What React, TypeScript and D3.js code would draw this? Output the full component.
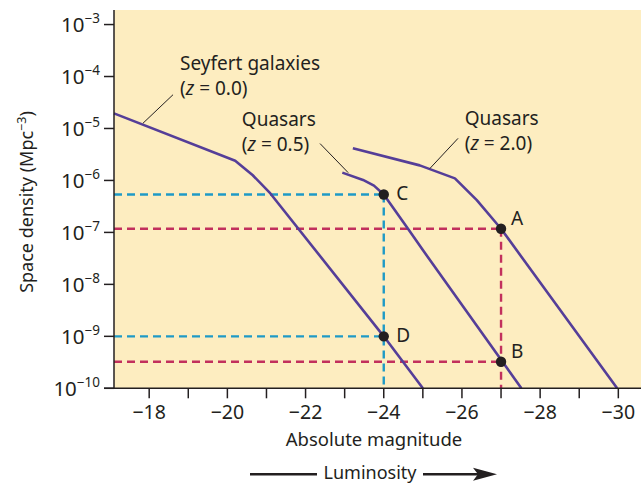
import * as d3 from 'd3';
import * as React from 'react';

// curves: absolute magnitude vs log10(space density)
const seyfertMag = [-17.1, -20.2, -20.65, -21.1, -24.0, -25.0];
const seyfertLog = [-4.71, -5.62, -5.9, -6.25, -9.0, -10.0];

const quasar05Mag = [-22.94, -23.47, -23.75, -24.0, -24.62, -25.0, -27.52];
const quasar05Log = [-5.85, -5.99, -6.1, -6.27, -6.93, -7.34, -10.0];

const quasar20Mag = [-23.21, -24.92, -25.82, -26.38, -27.0, -29.97];
const quasar20Log = [-5.38, -5.71, -5.96, -6.38, -6.93, -10.0];

// marked points
const pointNames = ['A', 'B', 'C', 'D'];
const pointMag = [-27, -27, -24, -24];
const pointLog = [-6.93, -9.49, -6.27, -9.0];
const pointColor = ['#c2305d', '#c2305d', '#1f9ac6', '#1f9ac6'];

const xTickValues = [-18, -19, -20, -21, -22, -23, -24, -25, -26, -27, -28, -29, -30];
const xTickLabels = [-18, -20, -22, -24, -26, -28, -30];
const yTickExp = [-3, -4, -5, -6, -7, -8, -9, -10];

// curve labels, positions in data units
const labelNames = ['Seyfert galaxies', 'Quasars', 'Quasars'];
const labelZ = ['0.0', '0.5', '2.0'];
const labelMag = [-18.79, -20.37, -26.07];
const labelLog = [-3.877, -4.956, -4.94];
const leaderFrom = [[-17.84, -4.9], [-23.09, -5.85], [-25.18, -5.77]];
const leaderTo = [[-18.61, -4.35], [-22.37, -5.29], [-25.9, -5.19]];

const W = 641;
const H = 483;
const left = 114;
const right = 641;
const top = 10;
const bottom = 388.3;

const font = "'Noto Sans', sans-serif";
const ink = '#231f20';
const curveColor = '#553e98';

const minus = (n: number) => String(n).replace('-', '\u2212');

export default function App() {
    const x = d3.scaleLinear().domain([-17.1, -30.58]).range([left, right]);
    const y = d3.scaleLog().domain([1e-10, Math.pow(10, -2.72)]).range([bottom, top]);
    const py = (l: number) => y(Math.pow(10, l));

    const line = d3.line<[number, number]>()
        .x((d) => x(d[0]))
        .y((d) => py(d[1]));

    const curves = [
        seyfertMag.map((m, i) => [m, seyfertLog[i]] as [number, number]),
        quasar05Mag.map((m, i) => [m, quasar05Log[i]] as [number, number]),
        quasar20Mag.map((m, i) => [m, quasar20Log[i]] as [number, number]),
    ];

    const arrowY = 474.3;

    return (
        <svg width={W} height={H} style={{position: 'absolute', left: 0, top: 0}} fontFamily={font}>
            <rect x={left} y={top} width={right - left} height={bottom - top} fill='#fdedc0' />

            {/* dashed guide lines */}
            {pointNames.map((n, i) => (
                <g key={'g' + n}>
                    <line x1={left} x2={x(pointMag[i])} y1={py(pointLog[i])} y2={py(pointLog[i])}
                        stroke={pointColor[i]} strokeWidth={2.4} strokeDasharray='8,5' />
                    {(n === 'A' || n === 'C') && (
                        <line x1={x(pointMag[i])} x2={x(pointMag[i])} y1={py(pointLog[i])} y2={bottom}
                            stroke={pointColor[i]} strokeWidth={2.4} strokeDasharray='8,5' />
                    )}
                </g>
            ))}

            {curves.map((c, i) => (
                <path key={'c' + i} d={line(c) || ''} fill='none' stroke={curveColor} strokeWidth={2.6} strokeLinejoin='round' />
            ))}

            {/* leaders and labels */}
            {labelNames.map((n, i) => (
                <g key={'l' + i} fill={ink} fontSize={19}>
                    <line x1={x(leaderFrom[i][0])} y1={py(leaderFrom[i][1])} x2={x(leaderTo[i][0])} y2={py(leaderTo[i][1])}
                        stroke={ink} strokeWidth={1} />
                    <text x={x(labelMag[i])} y={py(labelLog[i])}>{n}</text>
                    <text x={x(labelMag[i])} y={py(labelLog[i]) + 25}>
                        (<tspan fontStyle='italic'>z</tspan> = {labelZ[i]})
                    </text>
                </g>
            ))}

            {pointNames.map((n, i) => {
                const cx = x(pointMag[i]);
                const cy = py(pointLog[i]);
                const above = n === 'A' || n === 'B';
                return (
                    <g key={'p' + n}>
                        <circle cx={cx} cy={cy} r={5.2} fill={ink} />
                        <text x={cx + (above ? 10 : 12.5)} y={cy + (above ? -4 : 6)} fontSize={19} fill={ink}>{n}</text>
                    </g>
                );
            })}

            {/* axes */}
            <line x1={left} x2={left} y1={top} y2={bottom} stroke={ink} strokeWidth={1.5} />
            <line x1={104} x2={right} y1={bottom} y2={bottom} stroke={ink} strokeWidth={1.5} />
            {xTickValues.map((t) => (
                <line key={'xt' + t} x1={x(t)} x2={x(t)} y1={bottom} y2={bottom + 10} stroke={ink} strokeWidth={1.5} />
            ))}
            {xTickLabels.map((t) => (
                <text key={'xl' + t} x={x(t)} y={419} textAnchor='middle' fontSize={19.5} fill={ink}>{minus(t)}</text>
            ))}
            {yTickExp.map((e) => (
                <g key={'yt' + e}>
                    <line x1={104} x2={left} y1={y(Math.pow(10, e))} y2={y(Math.pow(10, e))} stroke={ink} strokeWidth={1.5} />
                    <text x={100} y={y(Math.pow(10, e)) + 7.5} textAnchor='end' fill={ink} fontSize={20.5}>
                        10<tspan fontSize={13.5} dy={-9}>{minus(e)}</tspan>
                    </text>
                </g>
            ))}

            <text x={374} y={446} textAnchor='middle' fontSize={18.5} fill={ink}>Absolute magnitude</text>
            <text transform='translate(33,202) rotate(-90)' textAnchor='middle' fontSize={18} fill={ink}>
                Space density (Mpc<tspan fontSize={12.5} dy={-7}>{'\u22123'}</tspan><tspan dy={7}>)</tspan>
            </text>

            {/* luminosity arrow */}
            <line x1={250} x2={317} y1={arrowY} y2={arrowY} stroke={ink} strokeWidth={2.6} />
            <text x={370} y={478.5} textAnchor='middle' fontSize={18} fill={ink}>Luminosity</text>
            <line x1={423} x2={480} y1={arrowY} y2={arrowY} stroke={ink} strokeWidth={2.6} />
            <path d={`M${473},${arrowY - 6.5} L${497},${arrowY} L${473},${arrowY + 6.5} L${478},${arrowY} Z`} fill={ink} />
        </svg>
    );
}
